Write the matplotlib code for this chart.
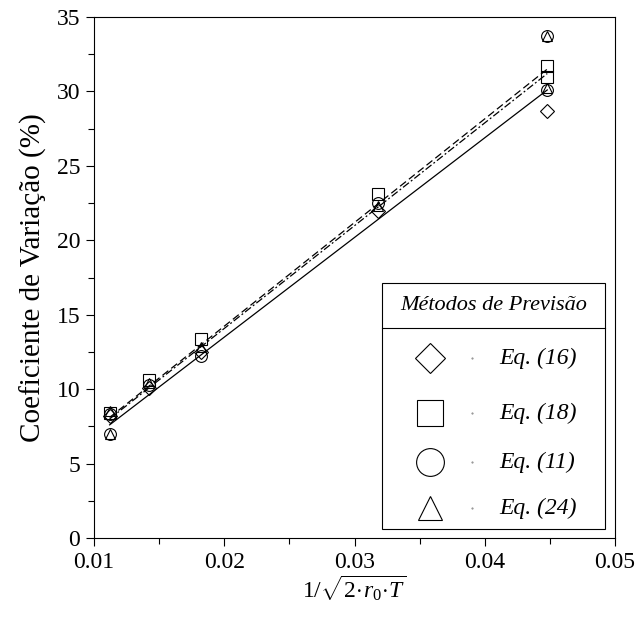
import matplotlib
matplotlib.use("Agg")
import matplotlib.pyplot as plt
from matplotlib.patches import Rectangle
from matplotlib.lines import Line2D
from matplotlib.ticker import MultipleLocator

plt.rcParams['font.family'] = ['Liberation Serif', 'DejaVu Serif']
plt.rcParams['mathtext.fontset'] = 'custom'
plt.rcParams['mathtext.rm'] = 'Liberation Serif'
plt.rcParams['mathtext.it'] = 'Liberation Serif:italic'

# ---- data ----
eq16_x = [0.0112, 0.0142, 0.0182, 0.0318, 0.0448]
eq16_y = [8.2, 10.1, 12.5, 22.0, 28.7]
eq18_x = [0.0112, 0.0142, 0.0182, 0.0318, 0.0448, 0.0448]
eq18_y = [8.4, 10.6, 13.4, 23.1, 31.7, 31.0]
eq11_x = [0.0112, 0.0112, 0.0142, 0.0182, 0.0318, 0.0448, 0.0448]
eq11_y = [7.0, 8.3, 10.3, 12.2, 22.5, 30.1, 33.7]
eq24_x = [0.0112, 0.0112, 0.0142, 0.0182, 0.0318, 0.0448, 0.0448]
eq24_y = [7.0, 8.5, 10.4, 12.8, 22.3, 30.2, 33.7]

fit_x = [0.0112, 0.0448]
fit_solid = [7.6, 30.1]
fit_dashed = [8.1, 31.5]
fit_dashdot = [8.0, 31.2]

legend_labels = ['Eq. (16)', 'Eq. (18)', 'Eq. (11)', 'Eq. (24)']
legend_markers = ['D', 's', 'o', '^']
legend_title = 'Métodos de Previsão'

fig = plt.figure(figsize=(6.35, 6.17), dpi=100)
ax = fig.add_axes([94/635, 1-538/617, 521/635, 521/617])

ax.plot(fit_x, fit_solid, '-', color='black', lw=0.9)
ax.plot(fit_x, fit_dashed, color='black', lw=0.9, dashes=(6, 3))
ax.plot(fit_x, fit_dashdot, color='black', lw=0.9, dashes=(6, 2, 1.5, 2))

mk = dict(linestyle='none', mfc='none', mec='black', mew=0.8)
ax.plot(eq16_x, eq16_y, marker='D', ms=7.5, **mk)
ax.plot(eq18_x, eq18_y, marker='s', ms=8.5, **mk)
ax.plot(eq11_x, eq11_y, marker='o', ms=8.5, **mk)
ax.plot(eq24_x, eq24_y, marker='^', ms=7.5, **mk)

ax.set_xlim(0.01, 0.05)
ax.set_ylim(0, 35)
ax.xaxis.set_major_locator(MultipleLocator(0.01))
ax.xaxis.set_minor_locator(MultipleLocator(0.005))
ax.yaxis.set_major_locator(MultipleLocator(5))
ax.yaxis.set_minor_locator(MultipleLocator(2.5))
ax.set_xticklabels([f'{v:.2f}' for v in ax.get_xticks()])
ax.tick_params(which='major', direction='out', length=6, width=0.8, labelsize=17, pad=4)
ax.tick_params(which='minor', direction='out', length=4, width=0.8)
for s in ax.spines.values():
    s.set_linewidth(0.8)

ax.set_ylabel('Coeficiente de Variação (%)', fontsize=21, labelpad=7)
ax.set_xlabel(r'$1/\sqrt{2\!\cdot\! r_0\!\cdot\! T}$', fontsize=17, labelpad=1)

# ---- legend box ----
x0, x1 = (382-94)/521, (605-94)/521
y0, y1 = (538-529)/521, (538-283)/521
ax.add_patch(Rectangle((x0, y0), x1-x0, y1-y0, transform=ax.transAxes,
                       fill=True, facecolor='white', edgecolor='black', lw=0.8, zorder=5))
ax.text((x0+x1)/2, (538-306)/521, legend_title, transform=ax.transAxes,
        ha='center', va='center', fontsize=16, style='italic', zorder=6)
ax.add_line(Line2D([x0, x1], [(538-328)/521]*2, transform=ax.transAxes,
                   color='black', lw=0.8, zorder=6))
ys = [(538-358)/521, (538-413)/521, (538-462)/521, (538-508)/521]
sizes = [15, 19, 20, 17]
for lab, m, yy, s in zip(legend_labels, legend_markers, ys, sizes):
    ax.plot([(430-94)/521], [yy], marker=m, ms=s, mfc='none', mec='black', mew=0.8,
            transform=ax.transAxes, zorder=6, clip_on=False)
    ax.plot([(472-94)/521], [yy], marker='.', ms=1, color='gray',
            transform=ax.transAxes, zorder=6)
    ax.text((499-94)/521, yy, lab, transform=ax.transAxes, ha='left', va='center',
            fontsize=17, style='italic', zorder=6)

fig.savefig('out.png', dpi=100)
